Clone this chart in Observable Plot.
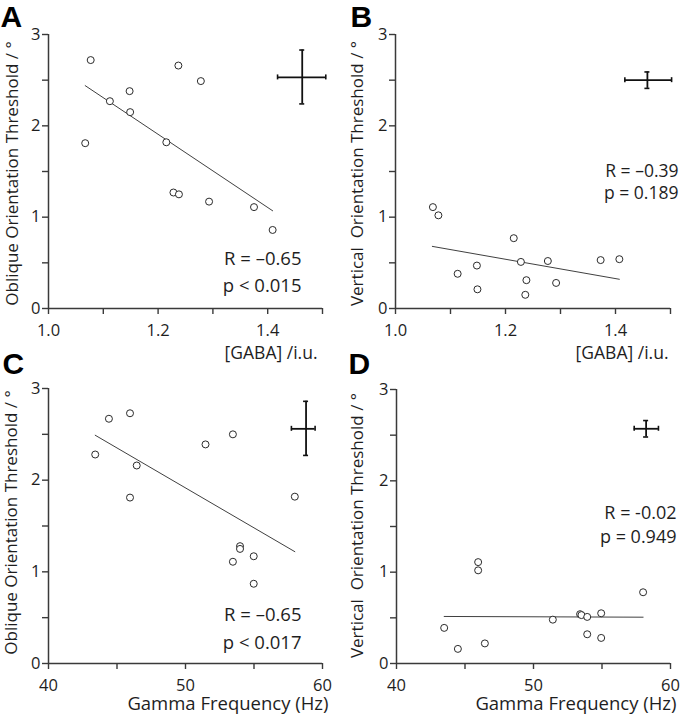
<!DOCTYPE html>
<html><head><meta charset="utf-8">
<script src="https://cdn.jsdelivr.net/npm/d3@7"></script>
<script src="https://cdn.jsdelivr.net/npm/@observablehq/plot@0.6"></script>
<style>
body{margin:0;background:#fff;}
#wrap{position:relative;width:686px;height:719px;overflow:hidden;background:#fff;}
#wrap svg{position:absolute;overflow:visible;}
</style></head><body><div id="wrap"></div>
<script>
// ---- data ----
const gabaA = [1.077,1.237,1.278,1.148,1.112,1.149,1.067,1.215,1.228,1.238,1.293,1.375,1.409];
const obliqueA = [2.72,2.66,2.49,2.38,2.27,2.15,1.81,1.82,1.27,1.25,1.17,1.11,0.86];
const gabaB = [1.068,1.078,1.215,1.113,1.148,1.149,1.228,1.238,1.236,1.277,1.292,1.373,1.407];
const verticalB = [1.11,1.02,0.77,0.38,0.47,0.21,0.51,0.31,0.15,0.52,0.28,0.53,0.54];
const gammaC = [43.41,44.41,45.95,46.44,45.95,51.46,53.46,53.98,53.98,53.46,54.98,54.98,57.98];
const obliqueC = [2.28,2.67,2.73,2.16,1.81,2.39,2.50,1.28,1.25,1.11,1.17,0.87,1.82];
const gammaD = [43.48,44.48,45.96,45.96,46.45,51.41,53.40,53.50,53.92,53.92,54.94,54.94,58.0];
const verticalD = [0.39,0.16,1.11,1.02,0.22,0.48,0.54,0.53,0.51,0.32,0.55,0.28,0.78];

const fitA = {x:[1.067,1.409], y:[2.44,1.07]};
const fitB = {x:[1.067,1.407], y:[0.68,0.32]};
const fitC = {x:[43.41,57.98], y:[2.49,1.22]};
const fitD = {x:[43.48,58.0], y:[0.515,0.507]};

// error crosses: centre, x extent, y extent
const errA = {cx:1.463, cy:2.53, x1:1.418, x2:1.506, y1:2.24, y2:2.83};
const errB = {cx:1.458, cy:2.50, x1:1.417, x2:1.502, y1:2.41, y2:2.59};
const errC = {cx:58.8, cy:2.56, x1:57.73, x2:59.46, y1:2.27, y2:2.86};
const errD = {cx:58.22, cy:2.57, x1:57.35, x2:59.12, y1:2.48, y2:2.66};

const statsA = ["R = –0.65", "p < 0.015"];
const statsB = ["R = –0.39", "p = 0.189"];
const statsC = ["R = –0.65", "p < 0.017"];
const statsD = ["R = -0.02", "p = 0.949"];

const gabaTicks = [1.0,1.1,1.2,1.3,1.4,1.5];
const gammaTicks = [40,45,50,55,60];
const yTicks = [0,0.5,1,1.5,2,2.5,3];

const gabaLabel = "[GABA] /i.u.";
const gammaLabel = "Gamma Frequency (Hz)";
const obliqueLabel = "Oblique Orientation Threshold / °";
const verticalLabel = "Vertical  Orientation Threshold / °";

// ---- drawing ----
const FONT = "'Open Sans', sans-serif";
const INK = "#1e1e1e";
const AXIS = "#3a3a3a";

function panel(c) {
  const pts = c.xs.map((x, i) => ({x, y: c.ys[i]}));
  const fit = c.fit.x.map((x, i) => ({x, y: c.fit.y[i]}));
  const e = [c.err];
  const txt = {fontFamily: FONT, fill: INK};
  const marks = [
    Plot.axisX({ticks: c.xTicks, tickFormat: c.xFmt, tickSize: 6, tickPadding: 10,
      stroke: AXIS, strokeWidth: 1.4, label: null, fontSize: 16.5, fill: INK}),
    Plot.axisY({ticks: yTicks, tickFormat: d => Number.isInteger(d) ? String(d) : "",
      tickSize: 6, tickPadding: 2, stroke: AXIS, strokeWidth: 1.4, label: null, fontSize: 16.5, fill: INK}),
    Plot.ruleY([0], {stroke: AXIS, strokeWidth: 1.5}),
    Plot.ruleX([c.xDomain[0]], {stroke: AXIS, strokeWidth: 1.5}),
    Plot.line(fit, {x: "x", y: "y", stroke: "#2a2a2a", strokeWidth: 0.9}),
    Plot.dot(pts, {x: "x", y: "y", r: 3.5, stroke: "#2a2a2a", strokeWidth: 1, fill: "white"}),
    Plot.ruleY(e, {y: "cy", x1: "x1", x2: "x2", stroke: "#111", strokeWidth: 1.8}),
    Plot.ruleX(e, {x: "cx", y1: "y1", y2: "y2", stroke: "#111", strokeWidth: 1.8}),
    Plot.ruleY(e, {y: "y1", x1: "cx", x2: "cx", insetLeft: -2.5, insetRight: -2.5, stroke: "#111", strokeWidth: 1.6}),
    Plot.ruleY(e, {y: "y2", x1: "cx", x2: "cx", insetLeft: -2.5, insetRight: -2.5, stroke: "#111", strokeWidth: 1.6}),
    Plot.ruleX(e, {x: "x1", y1: "cy", y2: "cy", insetTop: -2.5, insetBottom: -2.5, stroke: "#111", strokeWidth: 1.6}),
    Plot.ruleX(e, {x: "x2", y1: "cy", y2: "cy", insetTop: -2.5, insetBottom: -2.5, stroke: "#111", strokeWidth: 1.6}),
    Plot.text([c.stats[0]], {...txt, fontSize: c.statSize, frameAnchor: c.statAnchor, textAnchor: "end", lineAnchor: "middle", dx: c.statDx, dy: c.statDy[0]}),
    Plot.text([c.stats[1]], {...txt, fontSize: c.statSize, frameAnchor: c.statAnchor, textAnchor: "end", lineAnchor: "middle", dx: c.statDx, dy: c.statDy[1]}),
    Plot.text([c.xLabel], {...txt, fontSize: c.xlSize, frameAnchor: "bottom-right", textAnchor: "end", lineAnchor: "middle", dx: c.xlDx, dy: c.xlDy}),
    Plot.text([c.yLabel], {...txt, fontSize: 17, frameAnchor: "left", rotate: -90, textAnchor: "middle", lineAnchor: "middle", dx: c.ylDx, dy: c.ylDy}),
    Plot.text([c.letter], {fontFamily: "'Liberation Sans', Arial, sans-serif", fontWeight: "bold", fontSize: 30, fill: "#000",
      frameAnchor: "top-left", textAnchor: "start", lineAnchor: "bottom", dx: c.letDx, dy: c.letDy})
  ];
  const svg = Plot.plot({
    width: c.width, height: c.height,
    marginLeft: c.m[0], marginRight: c.m[1], marginTop: c.m[2], marginBottom: c.m[3],
    x: {domain: c.xDomain},
    y: {domain: [0, 3]},
    style: {fontFamily: FONT, fontSize: "16.5px", background: "transparent", color: INK, overflow: "visible"},
    marks
  });
  svg.style.left = c.left + "px";
  svg.style.top = c.top + "px";
  document.getElementById("wrap").appendChild(svg);
}

const gabaFmt = d => (Math.round(d * 10) % 2 === 0) ? d.toFixed(1) : "";
const gammaFmt = d => (d % 10 === 0) ? String(d) : "";

panel({left: 0, top: 0, width: 343, height: 365, m: [48, 21, 34, 57],
  xs: gabaA, ys: obliqueA, fit: fitA, err: errA, xDomain: [1.0, 1.5], xTicks: gabaTicks, xFmt: gabaFmt,
  stats: statsA, statSize: 18.5, statAnchor: "bottom-right", statDx: -21, statDy: [-49, -22],
  xLabel: gabaLabel, xlSize: 17.5, xlDx: -5, xlDy: 45, yLabel: obliqueLabel, ylDx: -36, ylDy: 2,
  letter: "A", letDx: -48, letDy: -8});

panel({left: 343, top: 0, width: 343, height: 365, m: [52, 16, 34, 57],
  xs: gabaB, ys: verticalB, fit: fitB, err: errB, xDomain: [1.0, 1.5], xTicks: gabaTicks, xFmt: gabaFmt,
  stats: statsB, statSize: 17.5, statAnchor: "top-right", statDx: 8, statDy: [137, 159],
  xLabel: gabaLabel, xlSize: 17.5, xlDx: -2, xlDy: 45, yLabel: verticalLabel, ylDx: -38, ylDy: 2,
  letter: "B", letDx: -45, letDy: -8});

panel({left: 0, top: 345, width: 343, height: 374, m: [48, 21, 43, 56],
  xs: gammaC, ys: obliqueC, fit: fitC, err: errC, xDomain: [40, 60], xTicks: gammaTicks, xFmt: gammaFmt,
  stats: statsC, statSize: 18.5, statAnchor: "bottom-right", statDx: -21, statDy: [-48, -20],
  xLabel: gammaLabel, xlSize: 18.5, xlDx: 6, xlDy: 41, yLabel: obliqueLabel, ylDx: -37, ylDy: -3.5,
  letter: "C", letDx: -46, letDy: -15});

panel({left: 343, top: 345, width: 343, height: 374, m: [53, 16, 44, 56],
  xs: gammaD, ys: verticalD, fit: fitD, err: errD, xDomain: [40, 60], xTicks: gammaTicks, xFmt: gammaFmt,
  stats: statsD, statSize: 18, statAnchor: "top-right", statDx: 6, statDy: [124, 148],
  xLabel: gammaLabel, xlSize: 18.5, xlDx: 6, xlDy: 41, yLabel: verticalLabel, ylDx: -39, ylDy: -1,
  letter: "D", letDx: -48, letDy: -16});
</script></body></html>
